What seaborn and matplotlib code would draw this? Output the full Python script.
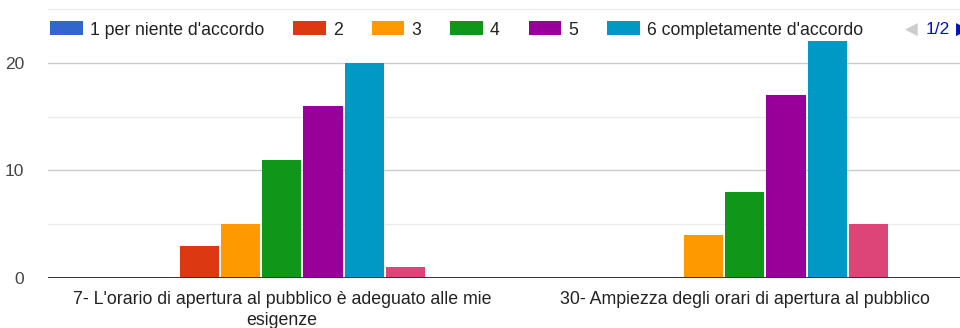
import matplotlib
matplotlib.use("Agg")
import matplotlib.pyplot as plt
from matplotlib.patches import Patch
from matplotlib.ticker import MultipleLocator
import pandas as pd
import seaborn as sns

# Domande (asse x) e livelli della scala (serie)
domande = [
    "7- L'orario di apertura al pubblico è adeguato alle mie\nesigenze",
    "30- Ampiezza degli orari di apertura al pubblico",
]
livelli = ["1 per niente d'accordo", "2", "3", "4", "5",
           "6 completamente d'accordo", "Non so"]
colori = ["#3366cc", "#dc3912", "#ff9900", "#109618", "#990099",
          "#0099c6", "#dd4477"]

# Numero di risposte per livello, una lista per domanda
risposte_d7 = [0, 3, 5, 11, 16, 20, 1]
risposte_d30 = [0, 0, 4, 8, 17, 22, 5]

righe = []
for domanda, valori in zip(domande, [risposte_d7, risposte_d30]):
    for livello, v in zip(livelli, valori):
        righe.append({"domanda": domanda, "livello": livello, "risposte": v})
df = pd.DataFrame(righe)

sns.set_theme(style="white")
plt.rcParams["font.family"] = ["Liberation Sans", "DejaVu Sans"]

fig = plt.figure(figsize=(9.6, 3.28), dpi=100)
ax = fig.add_axes([48 / 960, 1 - 278 / 328, 1 - 48 / 960, 278 / 328])

sns.barplot(data=df, x="domanda", y="risposte", hue="livello",
            order=domande, hue_order=livelli, palette=colori,
            width=0.624, gap=0.05, saturation=1, legend=False,
            linewidth=0, ax=ax, zorder=3)

ax.set_xlim(-0.505, 1.465)
ax.set_ylim(0, 25.86)
ax.yaxis.set_major_locator(MultipleLocator(10))
ax.yaxis.set_minor_locator(MultipleLocator(5))
ax.grid(which="major", axis="y", color="#cccccc", linewidth=1, zorder=0)
ax.grid(which="minor", axis="y", color="#ebebeb", linewidth=1, zorder=0)
ax.axhline(0, color="#333333", linewidth=1.4, zorder=4)
for s in ax.spines.values():
    s.set_visible(False)

ax.set_xlabel("")
ax.set_ylabel("")
ax.tick_params(axis="y", which="both", length=0, pad=17,
               labelsize=12.5, labelcolor="#444444")
ax.tick_params(axis="x", length=0, pad=9, labelsize=12.8,
               labelcolor="#222222")
for lab in ax.get_xticklabels():
    lab.set_horizontalalignment("center")
    lab.set_multialignment("center")
    lab.set_linespacing(1.35)

# Legenda in alto (prima pagina: sei livelli)
handles = [Patch(facecolor=c, edgecolor="none") for c in colori[:6]]
fig.legend(handles, livelli[:6], loc="center left",
           bbox_to_anchor=(50 / 960, 1 - 30 / 328), ncol=6, frameon=False,
           fontsize=12.7, labelcolor="#222222", borderpad=0,
           borderaxespad=0, handlelength=1.85, handleheight=0.85,
           handletextpad=0.4, columnspacing=1.65)

# Paginazione della legenda
fig.text(905 / 960, 1 - 30 / 328, "◀", color="#cccccc", fontsize=12,
         va="center", ha="left", family="DejaVu Sans")
fig.text(926 / 960, 1 - 30 / 328, "1/2", color="#0011cc", fontsize=12.5,
         va="center", ha="left")
fig.text(956 / 960, 1 - 30 / 328, "▶", color="#0011cc", fontsize=12,
         va="center", ha="left", family="DejaVu Sans")

fig.savefig("out.png", dpi=100)
